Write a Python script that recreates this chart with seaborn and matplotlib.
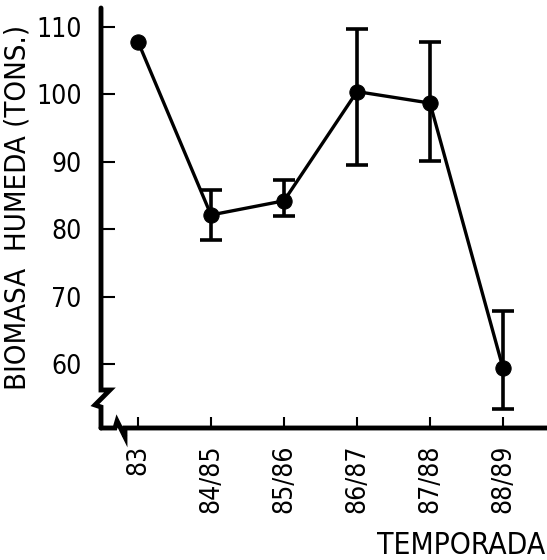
import matplotlib
matplotlib.use("Agg")
import matplotlib.pyplot as plt
import seaborn as sns
import pandas as pd
import numpy as np

temporadas = ["83", "84/85", "85/86", "86/87", "87/88", "88/89"]
biomasa = [107.8, 82.1, 84.2, 100.4, 98.7, 59.4]
err_sup = [107.8, 85.8, 87.3, 109.7, 107.8, 67.9]
err_inf = [107.8, 78.4, 82.0, 89.5, 90.1, 53.3]
yticks = [60, 70, 80, 90, 100, 110]

sns.set_theme(style="white")
plt.rcParams["font.family"] = ["DejaVu Sans"]
plt.rcParams["font.stretch"] = "condensed"

df = pd.DataFrame({"temporada": temporadas, "biomasa": biomasa})

fig = plt.figure(figsize=(5.47, 5.6), dpi=100)
ax = fig.add_axes([101 / 547, 132 / 560, 446 / 547, 420 / 560])

sns.lineplot(data=df, x="temporada", y="biomasa", ax=ax, color="black",
             linewidth=2.4, marker="o", markersize=11, markeredgecolor="black",
             markerfacecolor="black", sort=False)

xpos = np.arange(len(temporadas))
b = np.array(biomasa)
lo = b - np.array(err_inf)
hi = np.array(err_sup) - b
mask = (lo > 0) | (hi > 0)
ax.errorbar(xpos[mask], b[mask], yerr=[lo[mask], hi[mask]], fmt="none",
            ecolor="black", elinewidth=2.6, capsize=8, capthick=2.6)

ax.set_xlim(-0.507, 5.603)
ax.set_ylim(50.5, 112.8)
ax.set_yticks(yticks)
ax.set_xticks(xpos)
ax.set_xticklabels(temporadas, rotation=90)
ax.set_xlabel("")
ax.set_ylabel("")
ax.tick_params(axis="y", direction="in", length=10, width=1.5, pad=14,
               labelsize=19, left=True, colors="black")
ax.tick_params(axis="x", direction="in", length=8, width=1.5, pad=12,
               labelsize=19, bottom=True, colors="black")
for s in ax.spines.values():
    s.set_visible(False)

# axis lines with break marks
tr = ax.transAxes
ax.plot([0, 0, 0.02, -0.0135, 0, 0], [1, 0.0905, 0.0905, 0.0548, 0.05, 0],
        transform=tr, color="black", lw=3.5, clip_on=False,
        solid_joinstyle="miter")
ax.plot([0, 0.0314, 0.036, 0.0538, 0.0538, 1], [0, 0, 0.0167, -0.0214, 0, 0],
        transform=tr, color="black", lw=3.5, clip_on=False,
        solid_joinstyle="miter")

fig.text(18 / 547, 1 - 207 / 560, "BIOMASA  HUMEDA (TONS.)", rotation=90,
         ha="center", va="center", fontsize=21, color="black")
fig.text(545 / 547, 1 - 545 / 560, "TEMPORADA", ha="right", va="center",
         fontsize=21.5, color="black")

fig.savefig("out.png", dpi=100, facecolor="white")
